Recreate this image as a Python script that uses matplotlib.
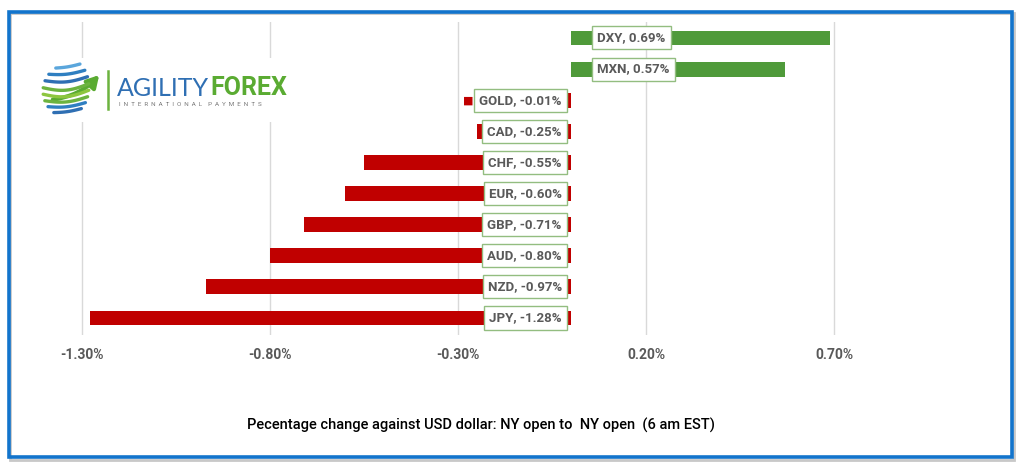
import numpy as np
import matplotlib.pyplot as plt
from matplotlib.patches import Rectangle, FancyArrowPatch

# data
currencies = ['JPY', 'NZD', 'AUD', 'GBP', 'EUR', 'CHF', 'CAD', 'GOLD', 'MXN', 'DXY']
changes = [-1.28, -0.97, -0.80, -0.71, -0.60, -0.55, -0.25, -0.01, 0.57, 0.69]
tick_values = [-1.30, -0.80, -0.30, 0.20, 0.70]
caption = 'Pecentage change against USD dollar: NY open to  NY open  (6 am EST)'

RED = '#c00000'
GREEN = '#4f9a3a'
LABEL_EDGE = '#93bd80'
GREY = '#595959'
W, H = 1024, 466

plt.rcParams['font.family'] = ['Roboto', 'DejaVu Sans']

fig = plt.figure(figsize=(W / 100, H / 100), dpi=100)
fig.patch.set_facecolor('white')

# main chart axes, placed in pixels
x0, x1 = -1.4, 1.1
px_left = 570.8 + x0 * 376
px_right = 570.8 + x1 * 376
ax = fig.add_axes([px_left / W, (H - 335.1) / H, (px_right - px_left) / W, (335.1 - 21.8) / H])
ax.set_xlim(x0, x1)
ax.set_ylim(-0.55, 9.52)

ypos = np.arange(len(currencies))
colors = [RED if v < 0 else GREEN for v in changes]
ax.barh(ypos, changes, height=0.48, color=colors, zorder=2)

ax.set_xticks(tick_values)
ax.set_xticklabels(['%.2f%%' % v for v in tick_values], color=GREY, fontsize=10, fontweight='bold')
ax.set_yticks([])
ax.tick_params(axis='x', length=0, pad=9)
ax.grid(axis='x', color='#d9d9d9', linewidth=1, zorder=0)
ax.set_axisbelow(True)
for s in ax.spines.values():
    s.set_visible(False)

# data labels at the inside base of every bar
for y, name, v in zip(ypos, currencies, changes):
    txt = '%s, %.2f%%' % (name, v)
    if v < 0:
        off, ha = -6.5, 'right'
    else:
        off, ha = 19, 'left'
    ax.annotate(txt, xy=(0, y), xytext=(off, 0), textcoords='offset points',
                ha=ha, va='center', fontsize=9.5, fontweight='bold', color=GREY, zorder=4,
                bbox=dict(boxstyle='square,pad=0.38', fc='white', ec=LABEL_EDGE, lw=1))
    if name == 'GOLD':
        ax.annotate('\u25a0', xy=(0, y), xytext=(-74, 0), textcoords='offset points',
                    ha='center', va='center', fontsize=8, color=RED, family='DejaVu Sans')

# logo drawn in pixel coordinates
lg = fig.add_axes([0, 0, 1, 1], zorder=5)
lg.set_xlim(0, W)
lg.set_ylim(H, 0)
lg.axis('off')
lg.patch.set_alpha(0)
lg.add_patch(Rectangle((38, 58), 250, 64, fc='white', ec='none'))

# globe: curved latitude stripes, blue at the ends, green in the middle
cx, cy, R = 70, 91, 27
stripes = [(-0.85, '#5aa6dc'), (-0.62, '#2f7fc1'), (-0.38, '#2f6fb3'), (-0.12, '#6cb33f'),
           (0.12, '#8dc63f'), (0.36, '#6cb33f'), (0.58, '#2f7fc1'), (0.8, '#2f6fb3')]
t = np.linspace(0, 1, 40)
for k, col in stripes:
    half = R * np.sqrt(1 - k ** 2)
    xs = cx - half + 2 * half * t * 0.85
    ys = cy + k * R + 5 * np.sin(np.pi * t) * (1 - abs(k)) - 4 * t
    lg.plot(xs, ys, color=col, lw=2.4, solid_capstyle='round')
lg.add_patch(FancyArrowPatch((50, 100), (101, 73), connectionstyle='arc3,rad=0.2',
                             arrowstyle='-|>,head_length=7,head_width=4', color='#5aab32', lw=3))
lg.plot([108, 108], [71, 109], color='#6cb33f', lw=1.8)
t1 = lg.text(117, 88, 'AGILITY', color='#2f6fb3', fontsize=18, va='center', ha='left',
             family=['Lato', 'DejaVu Sans'])
fig.canvas.draw()
bb = t1.get_window_extent()
lg.text(bb.x1 + 1, 88, 'FOREX', color='#5aab32', fontsize=18, fontweight='bold', va='center', ha='left',
        family=['Roboto', 'DejaVu Sans'])
lg.text(119, 104, '  '.join('INTERNATIONAL') + '    ' + '  '.join('PAYMENTS'),
        color='#777777', fontsize=4.5, va='center', ha='left')

# caption
lg.text(481, 425, caption, ha='center', va='center', fontsize=10.5, fontweight='medium', color='black')

# blue border with a faint shadow
lg.add_patch(Rectangle((9.5, 12.5), 1004, 447, fc='none', ec='#c8c8c8', lw=2))
lg.add_patch(Rectangle((8.5, 11.5), 1003, 445.5, fc='none', ec='#1274cc', lw=2.6))

fig.savefig('out.png', dpi=100)
